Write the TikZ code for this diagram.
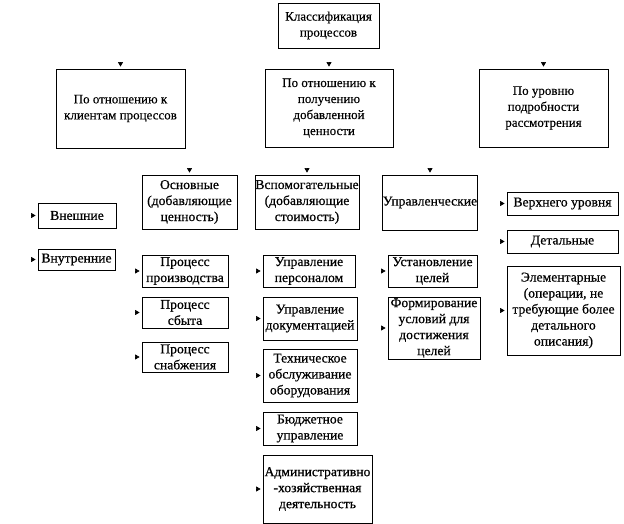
\documentclass[tikz,border=0pt]{standalone}
\usepackage{fontspec}
\setmainfont{Liberation Serif}[FakeBold=0.3]
\newfontfamily\lowfont[FakeStretch=1.01,FakeBold=0.6]{Liberation Serif}
\usetikzlibrary{arrows.meta}
\tikzset{
  box/.style={draw=black, line width=0.8pt, align=center, inner sep=0pt,
    font=\fontsize{13}{16}\selectfont},
  lbox/.style={box, font=\lowfont\fontsize{13.5}{16}\selectfont},
  tipline/.style={-{Triangle[width=5pt,length=4.5pt]}, line width=0.6pt, draw=black}
}
\newcommand{\bx}[7][box]{\node[#1, minimum width={(#5-#3)*1pt}, minimum height={(#6-#4)*1pt}] (#2) at ({(#3+#5)/2},{(#4+#6)/2}) {#7};}
\newcommand{\dtip}[1]{\draw[tipline] ([yshift=6.5pt]#1.north) -- ([yshift=2pt]#1.north);}
\newcommand{\rtip}[1]{\draw[tipline] ([xshift=-6.5pt]#1.west) -- ([xshift=-2pt]#1.west);}
\begin{document}
\begin{tikzpicture}[x=1pt,y=-1pt]
\useasboundingbox[fill=white] (0,0) rectangle (624,524);
% level 0 and 1
\bx{top}{278}{3}{379}{48}{Классификация\\процессов}
\bx{A}{56}{69}{185}{148}{По отношению к\\клиентам процессов}
\bx{B}{265}{69}{393}{147}{По отношению к\\получению\\добавленной\\ценности}
\bx{C}{479}{69}{608}{147}{По уровню\\подробности\\рассмотрения}
% level 2
\bx[lbox]{osn}{142}{175}{237}{229}{Основные\\(добавляющие\\ценность)}
\bx[lbox]{vsp}{255}{175}{359}{229}{Вспомогательные\\(добавляющие\\стоимость)}
\bx[lbox]{upr}{383}{175}{477}{230}{Управленческие}
% left column
\bx[lbox]{vnesh}{38}{203}{116}{228}{Внешние}
\bx[lbox]{vnutr}{38}{249}{115}{270}{Внутренние}
% basic
\bx[lbox]{pp}{142}{255}{228}{287}{Процесс\\производства}
\bx[lbox]{ps}{142}{297}{228}{328}{Процесс\\сбыта}
\bx[lbox]{psn}{142}{342}{228}{372}{Процесс\\снабжения}
% auxiliary
\bx[lbox]{up}{263}{255}{355}{287}{Управление\\персоналом}
\bx[lbox]{ud}{263}{297}{357}{340}{Управление\\документацией}
\bx[lbox]{to}{263}{349}{357}{402}{Техническое\\обслуживание\\оборудования}
\bx[lbox]{bu}{263}{412}{357}{445}{Бюджетное\\управление}
\bx[lbox]{adm}{263}{455}{372}{523}{Административно\\-хозяйственная\\деятельность}
% management
\bx[lbox]{ust}{388}{255}{477}{287}{Установление\\целей}
\bx[lbox]{form}{388}{297}{480}{359}{Формирование\\условий для\\достижения\\целей}
% detail level
\bx[lbox]{verh}{507}{192}{618}{215}{Верхнего уровня}
\bx[lbox]{det}{507}{230}{618}{253}{Детальные}
\bx[lbox]{elem}{507}{266}{620}{355}{Элементарные\\(операции, не\\требующие более\\детального\\описания)}
% arrowheads
\dtip{A}\dtip{B}\dtip{C}
\dtip{osn}\dtip{vsp}\dtip{upr}
\rtip{vnesh}\rtip{vnutr}
\rtip{pp}\rtip{ps}\rtip{psn}
\rtip{up}\rtip{ud}\rtip{to}\rtip{bu}\rtip{adm}
\rtip{ust}\rtip{form}
\rtip{verh}\rtip{det}\rtip{elem}
\end{tikzpicture}
\end{document}
